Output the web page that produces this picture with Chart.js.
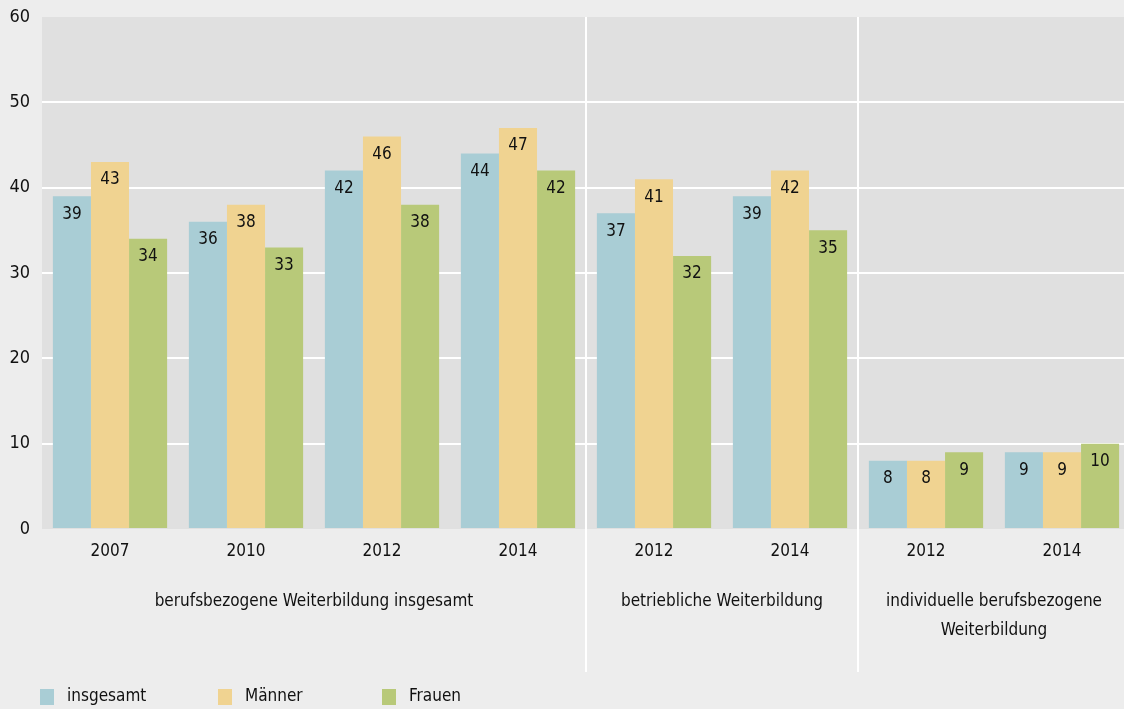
<!DOCTYPE html>
<html lang="de">
<head>
    <meta charset="UTF-8">
    <title>Berufsbezogene Weiterbildung</title>
    <script src="https://cdn.jsdelivr.net/npm/chart.js"></script>
    <style>
        html, body { margin: 0; padding: 0; background: #ededed; overflow: hidden; }
        #wrap { width: 1130px; height: 709px; }
    </style>
</head>
<body>
    <div id="wrap"><canvas id="chart"></canvas></div>

    <script>
        // Daten
        const years = ['2007', '2010', '2012', '2014', '2012', '2014', '2012', '2014'];
        const insgesamt = [39, 36, 42, 44, 37, 39, 8, 9];
        const maenner = [43, 38, 46, 47, 41, 42, 8, 9];
        const frauen = [34, 33, 38, 42, 32, 35, 9, 10];
        const yTicks = [0, 10, 20, 30, 40, 50, 60];

        // Gruppen: [erster Index, letzter Index, Zeilen]
        const groups = [
            [0, 3, ['berufsbezogene Weiterbildung insgesamt']],
            [4, 5, ['betriebliche Weiterbildung']],
            [6, 7, ['individuelle berufsbezogene', 'Weiterbildung']]
        ];

        const FONT = '"DejaVu Sans Condensed", "Liberation Sans Narrow", sans-serif';
        const TEXT = '#111111';

        const decorPlugin = {
            id: 'decor',
            beforeDraw(chart) {
                const { ctx, chartArea: a } = chart;
                ctx.save();
                ctx.fillStyle = '#e0e0e0';
                ctx.fillRect(a.left, a.top, a.right - a.left, a.bottom - a.top);
                ctx.restore();
            },
            afterDatasetsDraw(chart) {
                const { ctx, chartArea: a } = chart;
                const x = chart.scales.x;
                ctx.save();

                // Wertbeschriftungen
                ctx.font = '17px ' + FONT;
                ctx.fillStyle = TEXT;
                ctx.textAlign = 'center';
                ctx.textBaseline = 'middle';
                chart.data.datasets.forEach((ds, i) => {
                    chart.getDatasetMeta(i).data.forEach((bar, j) => {
                        ctx.fillText(ds.data[j], bar.x, bar.y + 18);
                    });
                });

                // Trennlinien und Gruppenbeschriftungen
                const half = (x.getPixelForValue(1) - x.getPixelForValue(0)) / 2;
                ctx.strokeStyle = '#ffffff';
                ctx.lineWidth = 2;
                groups.forEach((g, k) => {
                    if (k > 0) {
                        const sx = Math.round(x.getPixelForValue(g[0]) - half);
                        ctx.beginPath();
                        ctx.moveTo(sx, a.top);
                        ctx.lineTo(sx, 672);
                        ctx.stroke();
                    }
                    const cx = (x.getPixelForValue(g[0]) + x.getPixelForValue(g[1])) / 2;
                    g[2].forEach((line, l) => {
                        ctx.fillText(line, cx, 602 + l * 29);
                    });
                });

                // Legende
                const legendX = [40, 218, 382];
                chart.data.datasets.forEach((ds, i) => {
                    ctx.fillStyle = ds.backgroundColor;
                    ctx.fillRect(legendX[i], 689, 14, 16);
                    ctx.fillStyle = TEXT;
                    ctx.textAlign = 'left';
                    ctx.fillText(ds.label, legendX[i] + 27, 697);
                });
                ctx.restore();
            }
        };

        new Chart(document.getElementById('chart'), {
            type: 'bar',
            data: {
                labels: years,
                datasets: [
                    { label: 'insgesamt', data: insgesamt, backgroundColor: '#a9cdd5' },
                    { label: 'Männer', data: maenner, backgroundColor: '#f0d391' },
                    { label: 'Frauen', data: frauen, backgroundColor: '#b8c979' }
                ]
            },
            options: {
                responsive: true,
                maintainAspectRatio: false,
                animation: false,
                layout: { padding: { top: 17, left: 0, right: 0, bottom: 0 } },
                datasets: { bar: { barPercentage: 1, categoryPercentage: 0.84 } },
                plugins: {
                    legend: { display: false },
                    tooltip: { enabled: false }
                },
                scales: {
                    x: {
                        grid: { display: false, drawTicks: false },
                        border: { display: false },
                        ticks: { color: TEXT, font: { family: FONT, size: 17 }, padding: 12 },
                        afterFit(s) { s.height = 180; s.paddingLeft = 0; s.paddingRight = 0; }
                    },
                    y: {
                        min: 0,
                        max: 60,
                        afterBuildTicks(s) { s.ticks = yTicks.map(v => ({ value: v })); },
                        grid: {
                            drawTicks: false,
                            lineWidth: 2,
                            color: c => (c.tick.value === 0 || c.tick.value === 60) ? 'rgba(0,0,0,0)' : '#ffffff'
                        },
                        border: { display: false },
                        ticks: { color: TEXT, font: { family: FONT, size: 18 }, padding: 12 },
                        afterFit(s) { s.width = 42; s.paddingTop = 0; s.paddingBottom = 0; }
                    }
                }
            },
            plugins: [decorPlugin]
        });
    </script>
</body>
</html>
